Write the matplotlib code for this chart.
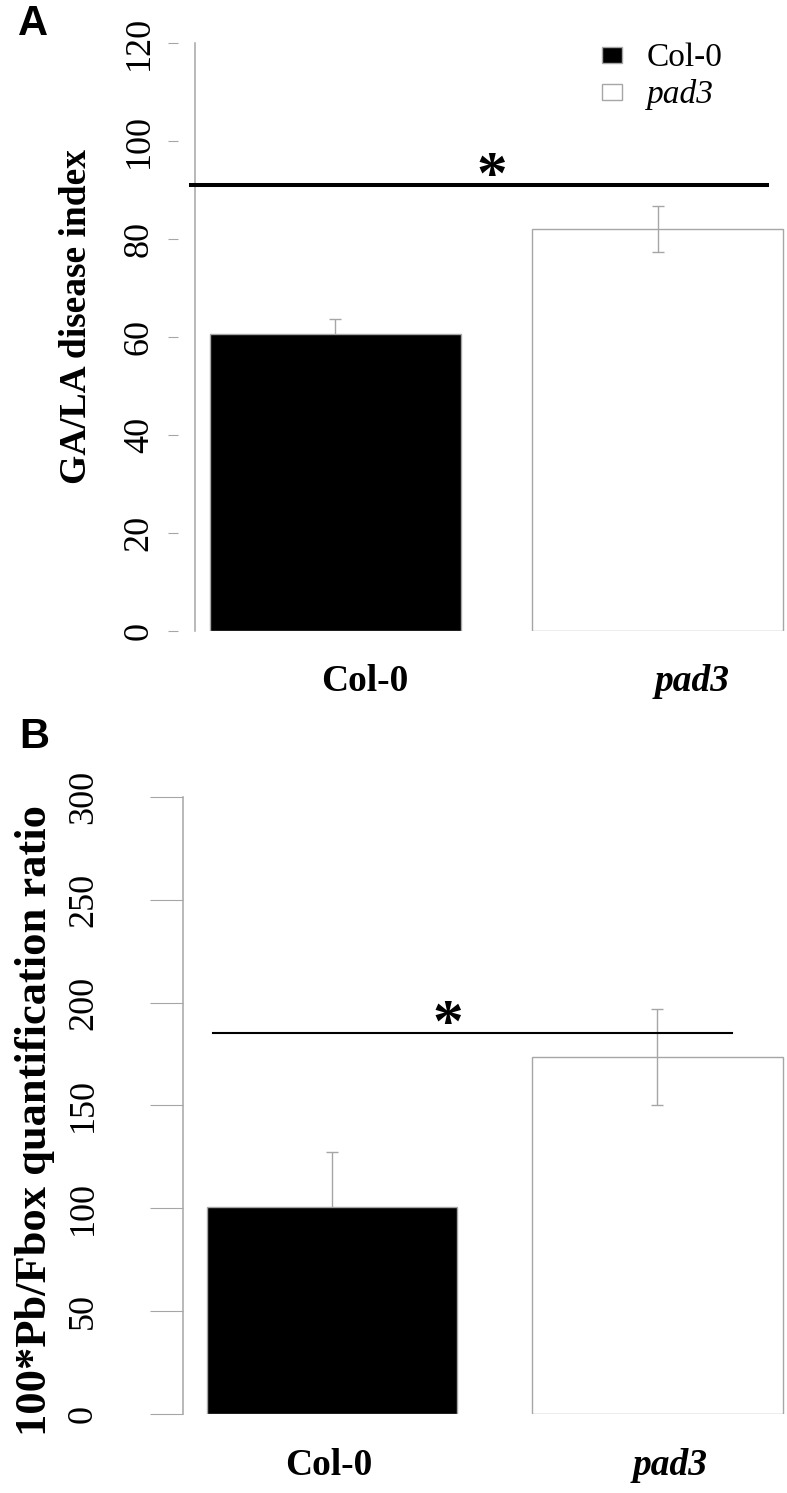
import matplotlib
matplotlib.use("Agg")
import matplotlib.pyplot as plt
from matplotlib.patches import Patch
from matplotlib.transforms import blended_transform_factory

plt.rcParams['font.family'] = ['Liberation Serif', 'DejaVu Serif']

# data
genotypes = ['Col-0', 'pad3']
disease_index = [60.6, 82.0]
disease_se = [3.1, 4.7]
pb_ratio = [100.6, 173.6]
pb_se = [26.8, 23.4]
sig_A = 91.0
sig_B = 185.2

GREY = '#a6a6a6'
fills = ['black', 'none']   # open bar lets its error bar show through

fig = plt.figure(figsize=(7.87, 14.93), dpi=100)

# ---- panel A ----
axA = fig.add_axes([0.2478, 0.5774, 0.7522, 0.3938])
axA.bar([0, 1], disease_index, width=0.78, color=fills, edgecolor=GREY,
        linewidth=1.0, zorder=2)
axA.errorbar([0, 1], disease_index, yerr=disease_se, fmt='none', ecolor=GREY,
             elinewidth=1.0, capsize=4.5, capthick=1.0, zorder=1)
axA.set_xlim(-0.436, 1.402)
axA.set_ylim(0, 120)
axA.set_yticks(range(0, 121, 20))
for s in ['top', 'right', 'bottom']:
    axA.spines[s].set_visible(False)
axA.spines['left'].set_position(('outward', 12))
axA.spines['left'].set_color('none')
axA.axvline(-0.436, color=GREY, lw=1.1, clip_on=False)
axA.tick_params(axis='y', direction='out', length=7.2, width=0.8, color=GREY,
                labelsize=26, pad=9, labelrotation=90)
for t in axA.get_yticklabels():
    t.set_verticalalignment('center')
axA.set_xticks([])
axA.plot([-0.449, 1.340], [sig_A, sig_A], color='black', lw=2.9, clip_on=False)
axA.text(0.486, sig_A - 1.6, '*', ha='center', va='baseline', fontsize=44,
         fontweight='bold')
trA = blended_transform_factory(axA.transData, axA.transAxes)
axA.text(0.092, -0.0867, 'Col-0', transform=trA, ha='center', va='center',
         fontsize=27, fontweight='bold')
axA.text(1.107, -0.0867, 'pad3', transform=trA, ha='center', va='center',
         fontsize=27, fontweight='bold', fontstyle='italic')
handles = [Patch(facecolor='black', edgecolor=GREY, linewidth=1.0),
           Patch(facecolor='white', edgecolor=GREY, linewidth=1.0)]
leg = axA.legend(handles, genotypes, loc='upper left', frameon=False,
                 bbox_to_anchor=(602 / 787, 1 - 43 / 1493),
                 bbox_transform=fig.transFigure, fontsize=24, borderpad=0,
                 borderaxespad=0, handlelength=0.6, handleheight=0.36,
                 handletextpad=0.75, labelspacing=0.18)
leg.get_texts()[1].set_fontstyle('italic')
fig.text(77 / 787, 1 - 317 / 1493, 'GA/LA disease index', rotation=90,
         ha='center', va='center', fontsize=27, fontweight='bold')

# ---- panel B ----
axB = fig.add_axes([0.2325, 0.0529, 0.7675, 0.4133])
axB.bar([0, 1], pb_ratio, width=0.77, color=fills, edgecolor=GREY,
        linewidth=1.0, zorder=2)
axB.errorbar([0, 1], pb_ratio, yerr=pb_se, fmt='none', ecolor=GREY,
             elinewidth=1.0, capsize=4.5, capthick=1.0, zorder=1)
axB.set_xlim(-0.458, 1.398)
axB.set_ylim(0, 300)
axB.set_yticks(range(0, 301, 50))
for s in ['top', 'right', 'bottom']:
    axB.spines[s].set_visible(False)
axB.spines['left'].set_color(GREY)
axB.spines['left'].set_linewidth(1.1)
axB.tick_params(axis='y', direction='out', length=23.8, width=0.8, color=GREY,
                labelsize=26, pad=36, labelrotation=90)
for t in axB.get_yticklabels():
    t.set_verticalalignment('center')
axB.set_xticks([])
axB.plot([-0.366, 1.229], [sig_B, sig_B], color='black', lw=1.5, clip_on=False)
axB.text(0.356, sig_B - 4.0, '*', ha='center', va='baseline', fontsize=44,
         fontweight='bold')
trB = blended_transform_factory(axB.transData, axB.transAxes)
axB.text(-0.01, -0.084, 'Col-0', transform=trB, ha='center', va='center',
         fontsize=27, fontweight='bold')
axB.text(1.038, -0.084, 'pad3', transform=trB, ha='center', va='center',
         fontsize=27, fontweight='bold', fontstyle='italic')
fig.text(35 / 787, 1 - 1120 / 1493, '100*Pb/Fbox quantification ratio',
         rotation=90, ha='center', va='center', fontsize=32, fontweight='bold')

# panel letters
fig.text(33 / 787, 1 - 24 / 1493, 'A', ha='center', va='center', fontsize=30,
         fontweight='bold', family='Liberation Sans')
fig.text(34 / 787, 1 - 737 / 1493, 'B', ha='center', va='center', fontsize=30,
         fontweight='bold', family='Liberation Sans')

fig.savefig('out.png', dpi=100)
